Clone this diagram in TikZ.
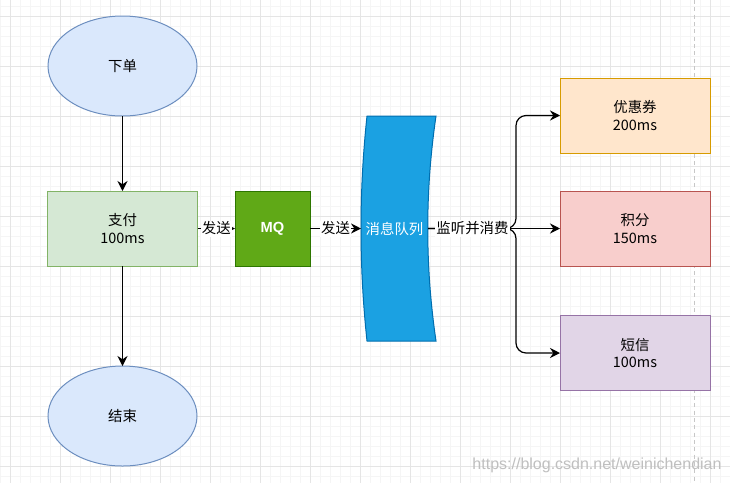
\documentclass[tikz,border=0pt]{standalone}
\usepackage{fontspec}
\setmainfont{Noto Sans CJK SC}
\newfontfamily\lat{Liberation Sans}
\usepackage{tikz}
\usetikzlibrary{shapes,arrows.meta,positioning}
\definecolor{bluefill}{HTML}{DAE8FC}
\definecolor{blueline}{HTML}{6C8EBF}
\definecolor{greenfill}{HTML}{D5E8D4}
\definecolor{greenline}{HTML}{82B366}
\definecolor{mqfill}{HTML}{60A917}
\definecolor{mqline}{HTML}{2D7600}
\definecolor{queuefill}{HTML}{1BA1E2}
\definecolor{queueline}{HTML}{006EAF}
\definecolor{orangefill}{HTML}{FFE6CC}
\definecolor{orangeline}{HTML}{D79B00}
\definecolor{redfill}{HTML}{F8CECC}
\definecolor{redline}{HTML}{B85450}
\definecolor{purplefill}{HTML}{E1D5E7}
\definecolor{purpleline}{HTML}{9673A6}

\begin{document}
\begin{tikzpicture}[x=0.75pt, y=-0.75pt,
  every node/.style={font=\fontsize{10.8}{13}\selectfont, align=center, outer sep=0pt, inner sep=0pt},
  startend/.style={ellipse, draw=blueline, fill=bluefill, line width=0.75pt, minimum width=149*0.75pt, minimum height=100*0.75pt},
  box/.style={rectangle, line width=0.75pt, minimum width=150*0.75pt, minimum height=75*0.75pt},
  flow/.style={line width=0.9pt, -{Stealth[length=7.5pt, width=7.5pt, inset=2.5pt]}},
  lbl/.style={fill=white, inner sep=1pt},
  minorgrid/.style={color=black!4, line width=0.5pt},
  majorgrid/.style={color=black!10, line width=0.6pt}]
\useasboundingbox (0,0) rectangle (730,483);
\fill[white] (0,0) rectangle (730,483);

% grid
\foreach \x in {0,10,...,730} \draw[minorgrid] (\x,0) -- (\x,483);
\foreach \y in {6,16,...,476} \draw[minorgrid] (0,\y) -- (730,\y);
\foreach \x in {10,60,...,710} \draw[majorgrid] (\x,0) -- (\x,483);
\foreach \y in {16,66,...,466} \draw[majorgrid] (0,\y) -- (730,\y);
\draw[color=black!22, line width=0.75pt, dash pattern=on 3pt off 2.5pt] (694,0) -- (694,483);

% left column
\node[startend] (order) at (122.5,66) {下单};
\node[box, draw=greenline, fill=greenfill] (pay) at (122.5,228.5) {支付\\100ms};
\node[startend] (done) at (122.5,416) {结束};

% middle
\node[box, draw=mqline, fill=mqfill, minimum width=75*0.75pt, text=white, font=\lat\bfseries\fontsize{11}{13}\selectfont] (mq) at (272.5,228.5) {MQ};
\filldraw[fill=queuefill, draw=queueline, line width=0.75pt] (367,116) -- (436,116)
  .. controls (425,191) and (425,266) .. (436,341) -- (367,341)
  .. controls (359,266) and (359,191) .. (367,116) -- cycle;
\node[minimum width=67*0.75pt, minimum height=225*0.75pt, text=white] (queue) at (394.5,228.5) {消息队列};

% right column
\node[box, draw=orangeline, fill=orangefill] (coupon) at (635,115.5) {优惠券\\200ms};
\node[box, draw=redline, fill=redfill] (points) at (635,228.5) {积分\\150ms};
\node[box, draw=purpleline, fill=purplefill] (sms) at (635,353) {短信\\100ms};

% connectors
\draw[flow] (order) -- (pay);
\draw[flow] (pay) -- (done);
\draw[flow] (pay) -- node[lbl] {发送} (mq);
\draw[flow] (mq) -- node[lbl] {发送} (queue);
\coordinate (fork) at (516,228.5);
\draw[flow, rounded corners=7.5pt] (queue.east) -- (fork) |- (coupon.west);
\draw[flow, rounded corners=7.5pt] (queue.east) -- (fork) |- (sms.west);
\draw[flow] (queue.east) -- node[lbl, pos=0.337] {监听并消费} (points.west);

\node[font=\lat\fontsize{12}{14}\selectfont, text=black!25] (wm) at (597,465) {https://blog.csdn.net/weinichendian};
\end{tikzpicture}
\end{document}
